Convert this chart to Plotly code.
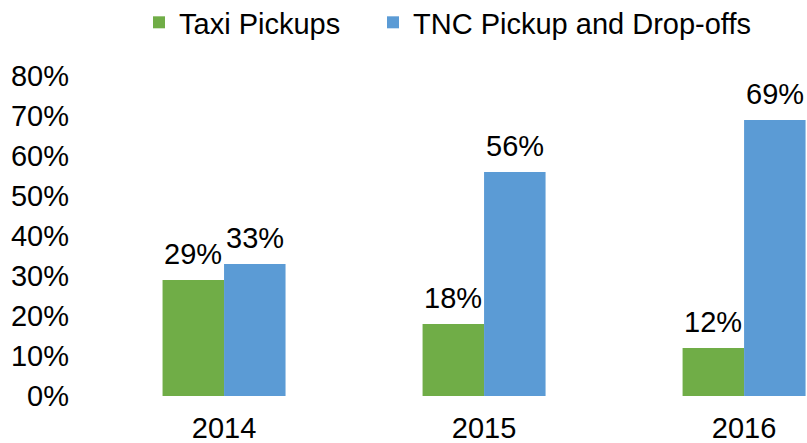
import plotly.graph_objects as go

years = ["2014", "2015", "2016"]
taxi = [0.29, 0.18, 0.12]
tnc = [0.33, 0.56, 0.69]
series_names = ["Taxi Pickups", "TNC Pickup and Drop-offs"]
colors = ["#70AD47", "#5B9BD5"]
ytick_vals = [0, 0.1, 0.2, 0.3, 0.4, 0.5, 0.6, 0.7, 0.8]
ytick_text = ["0%", "10%", "20%", "30%", "40%", "50%", "60%", "70%", "80%"]

FONT = "Liberation Sans, Arial, sans-serif"
FS = 29

fig = go.Figure()
for name, vals, col, lg in zip(series_names, [taxi, tnc], colors, ["legend", "legend2"]):
    fig.add_trace(go.Bar(
        x=years, y=vals, name=name, marker=dict(color=col, line=dict(width=0)),
        hovertemplate="%{x}: %{y:.0%}<extra></extra>", legend=lg,
    ))

annotations = []
for vals, shift in zip([taxi, tnc], [-30.75, 30.75]):
    for i, v in enumerate(vals):
        annotations.append(dict(
            x=i, y=v, xref="x", yref="y", text=f"{round(v*100)}%",
            showarrow=False, yanchor="bottom", xanchor="center",
            xshift=shift, yshift=8, font=dict(family=FONT, size=FS, color="black"),
        ))

legend_common = dict(orientation="h", xref="paper", xanchor="left",
                     y=1.247, yref="paper", yanchor="top",
                     font=dict(family=FONT, size=FS), itemwidth=30)

fig.update_layout(
    width=807, height=443,
    margin=dict(l=80, r=0, t=76, b=47, autoexpand=False),
    paper_bgcolor="white", plot_bgcolor="white",
    barmode="group", bargap=0.527, bargroupgap=0,
    font=dict(family=FONT, size=FS, color="black"),
    showlegend=True,
    legend=dict(x=(139 - 80) / 727, **legend_common),
    legend2=dict(x=(373 - 80) / 727, **legend_common),
    annotations=annotations,
)
fig.update_xaxes(type="category", range=[-0.554, 2.242], showline=False, showgrid=False, ticks="",
                 tickfont=dict(family=FONT, size=FS), ticklabelstandoff=12)
fig.update_yaxes(range=[0, 0.8], tickvals=ytick_vals, ticktext=ytick_text,
                 showgrid=False, zeroline=False, showline=False, ticks="",
                 tickfont=dict(family=FONT, size=FS), ticklabelstandoff=10)

fig.write_html(
    "out.html",
    config={"displayModeBar": False},
    post_script="document.body.style.margin='0';document.body.style.overflow='hidden';",
)
